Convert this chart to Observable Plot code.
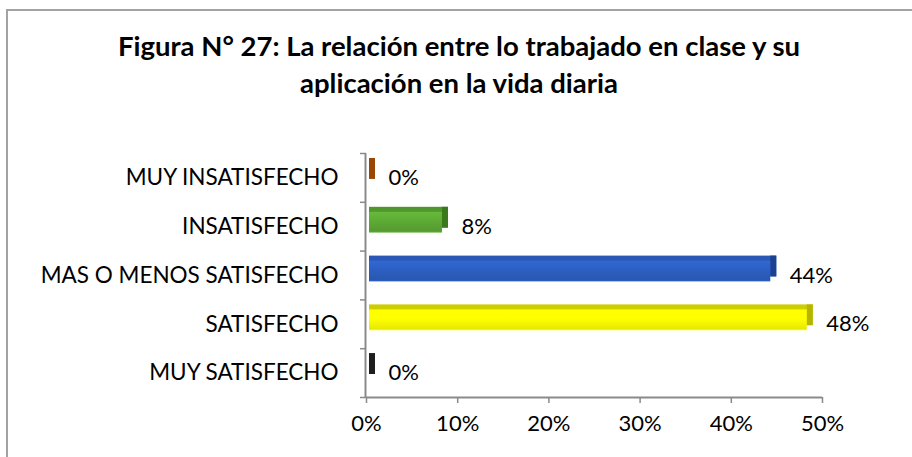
<!DOCTYPE html>
<html>
<head>
<meta charset="utf-8">
<script src="https://cdn.jsdelivr.net/npm/d3@7"></script>
<script src="https://cdn.jsdelivr.net/npm/@observablehq/plot@0.6"></script>
<style>
  html, body { margin: 0; padding: 0; background: #fff; }
  #wrap { position: relative; width: 912px; height: 457px; overflow: hidden; background: #fff; font-family: Lato, "Open Sans", sans-serif; }
  #frame { position: absolute; left: 6px; top: 9px; width: 1000px; height: 1000px; border-left: 2px solid #a3a3a3; border-top: 2px solid #a3a3a3; }
  #title { position: absolute; left: 6px; width: 906px; top: 27px; text-align: center; font-weight: bold; font-size: 27.5px; line-height: 37px; color: #000; }
  #chart { position: absolute; left: 0; top: 130px; }
  #defs { position: absolute; width: 0; height: 0; }
</style>
</head>
<body>
<div id="wrap">
  <svg id="defs" width="0" height="0"><defs></defs></svg>
  <div id="frame"></div>
  <div id="title">Figura N° 27: La relación entre lo trabajado en clase y su<br>aplicación en la vida diaria</div>
  <div id="chart"></div>
</div>
<script>
const categories = ["MUY INSATISFECHO", "INSATISFECHO", "MAS O MENOS SATISFECHO", "SATISFECHO", "MUY SATISFECHO"];
const values = [0, 8, 44, 48, 0];
const frontColors = ["#E46C0A", "#5DAA35", "#2D5FC2", "#FFFF00", "#404040"];
const topColors = ["#C25A08", "#4F962C", "#2A58B4", "#CDCD00", "#333333"];
const sideColors = ["#9A4705", "#3C781E", "#1C4190", "#B5B500", "#1E1E1E"];
const xTicks = [0, 10, 20, 30, 40, 50];

// vertical gradients for the front faces
const defs = d3.select("#defs defs");
frontColors.forEach((c, i) => {
  const g = defs.append("linearGradient").attr("id", "front" + i).attr("x1", 0).attr("y1", 0).attr("x2", 0).attr("y2", 1);
  const base = d3.color(c);
  g.append("stop").attr("offset", "0%").attr("stop-color", base.brighter(0.25).formatHex());
  g.append("stop").attr("offset", "45%").attr("stop-color", base.formatHex());
  g.append("stop").attr("offset", "92%").attr("stop-color", base.darker(0.25).formatHex());
  g.append("stop").attr("offset", "100%").attr("stop-color", base.brighter(0.15).formatHex());
});

const data = categories.map((c, i) => ({ c, i, v: values[i], front: `url(#front${i})`, top: topColors[i], side: sideColors[i] }));

const plot = Plot.plot({
  width: 912,
  height: 327,
  marginLeft: 366,
  marginRight: 90,
  marginTop: 23,
  marginBottom: 60,
  style: { fontFamily: "Lato, 'Open Sans', sans-serif", fontSize: "22px", color: "#000", background: "transparent" },
  x: { domain: [0, 50], label: null },
  y: { domain: [0, 5], reverse: true, label: null },
  color: { type: "identity" },
  marks: [
    // top faces
    Plot.rectX(data, { x1: 0, x2: "v", y1: d => d.i, y2: d => d.i + 1, insetTop: 10, insetBottom: 18, insetRight: -6, dx: 3, dy: -5, fill: "top" }),
    // side faces
    Plot.rectX(data, { x1: "v", x2: "v", y1: d => d.i, y2: d => d.i + 1, insetTop: 10, insetBottom: 18, insetRight: -6, dx: 3, dy: -5, fill: "side" }),
    // front faces
    Plot.rectX(data, { x1: 0, x2: "v", y1: d => d.i, y2: d => d.i + 1, insetTop: 10, insetBottom: 18, dx: 3, fill: "front" }),
    // axis lines
    Plot.ruleX([0], { y1: 0, y2: 5, stroke: "#8a8a8a", strokeWidth: 2, dx: -1 }),
    Plot.ruleY([5], { x1: 0, x2: 50, stroke: "#8a8a8a", strokeWidth: 2 }),
    // x axis
    Plot.axisX({ ticks: xTicks, tickFormat: d => d + "%", tickSize: 6, tickPadding: 12, stroke: "#8a8a8a", strokeWidth: 1.5, fill: "#000", fontSize: 22, label: null }),
    // y boundary ticks
    Plot.axisY({ ticks: d3.range(6), tickFormat: () => "", tickSize: 6, stroke: "#8a8a8a", strokeWidth: 1.5, label: null }),
    // y category labels
    Plot.axisY({ ticks: categories.map((_, i) => i + 0.5), tickFormat: t => categories[Math.floor(t)], tickSize: 0, tickPadding: 28, fill: "#000", fontSize: 22.5, label: null }),
    // value labels
    Plot.text(data, { x: "v", y: d => d.i + 0.5, text: d => d.v + "%", textAnchor: "start", dx: 22, fontSize: 22, fill: "#000" })
  ]
});
document.getElementById("chart").appendChild(plot);
</script>
</body>
</html>
